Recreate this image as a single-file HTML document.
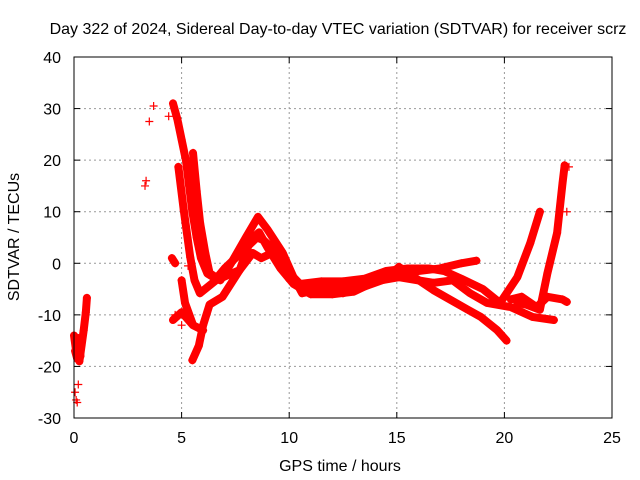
<!DOCTYPE html>
<html><head><meta charset="utf-8"><style>
body{margin:0;background:#fff}
svg{display:block;font-family:"Liberation Sans",sans-serif}
</style></head><body>
<svg id="chart" width="640" height="480" viewBox="0 0 640 480" xmlns="http://www.w3.org/2000/svg">
<text x="338" y="34" font-size="16" text-anchor="middle">Day 322 of 2024, Sidereal Day-to-day VTEC variation (SDTVAR) for receiver scrz</text>
<text x="340" y="471" font-size="16" text-anchor="middle">GPS time / hours</text>
<text transform="translate(19,237) rotate(-90)" font-size="16" text-anchor="middle">SDTVAR / TECUs</text>
<g id="grid"></g>
<g id="ticks"></g>
<g id="series"></g>
<rect x="74" y="57" width="538" height="361" fill="none" stroke="#000" stroke-width="1"/>
</svg>
<script>
const xTicks=[0,5,10,15,20,25];
const yTicks=[-30,-20,-10,0,10,20,30,40];
const trackA=[[4.6,31],[4.8,28],[5.0,24],[5.2,20],[5.35,15],[5.5,10],[5.7,5],[5.9,1],[6.2,-2],[6.6,-3],[7.0,-1],[7.5,1],[8.0,3],[8.5,5],[8.8,4.5],[9.2,3],[9.6,0],[10,-3],[10.5,-4],[11,-4.5],[12,-4.5],[13,-4],[14,-2.5],[15,-2],[16,-1.5],[17,-1],[18,0],[18.7,0.5]];
const trackB=[[5.53,21.4],[5.7,14],[5.86,7.8],[6.1,2],[6.3,-1.9],[6.8,-3.3],[7.3,0],[8.0,5.1],[8.55,9],[9.0,6.5],[9.7,2],[10.2,-2.7],[10.6,-5.8],[11.5,-5],[12.5,-5.8],[13.5,-4.5],[14.5,-3],[15.1,-0.7],[16.7,-5.2],[18.3,-9],[18.9,-10.4],[19.65,-12.9],[20.1,-15]];
const trackC=[[4.85,18.7],[5.1,10.3],[5.4,1.2],[5.6,-3.3],[5.85,-5.8],[6.6,-3.3],[7.7,-1.3],[8.2,4.5],[8.6,6],[9.0,3],[9.6,-1],[10.2,-4],[11,-6],[12,-6],[13,-5.5],[14,-3.5],[15.1,-2.7],[16.7,-3.8],[17.6,-3.3],[18.4,-5.8],[19.2,-7.7],[20.3,-8.5],[21.3,-10.4],[22.3,-11]];
const trackD=[[5.5,-18.8],[5.8,-16],[6.0,-12],[6.3,-8],[6.9,-6.5],[7.7,-1.3],[8.3,2],[8.7,1],[9.2,2],[9.8,-1],[10.5,-4],[11.5,-3.5],[12.5,-3.5],[13.5,-3],[14.5,-1.5],[15.5,-1],[16.5,-1],[17.2,-1.5],[18,-3],[19,-5],[19.8,-7.7],[20.6,-2.7],[21.2,3.9],[21.65,10]];
const trackE=[[4.6,-11],[5.0,-9.5],[5.53,-12],[6.0,-13]];
const trackF=[[5.0,-3.3],[5.16,-7.7],[5.5,-11.6]];
const trackG=[[20.6,-7.7],[21.0,-8],[21.65,-9],[22.0,-1.9],[22.45,5.9],[22.7,15.5],[22.8,19]];
const trackH=[[20.3,-7],[20.8,-6.5],[21.5,-8.5],[22.0,-6.5],[22.7,-7],[22.9,-7.5]];
const trackI=[[0.0,-14],[0.1,-17],[0.25,-19],[0.35,-16],[0.45,-13],[0.55,-9.5],[0.6,-6.7]];
const trackK=[[0.05,-15],[0.2,-14.5],[0.3,-18],[0.15,-18.5],[0.05,-17]];
const trackJ=[[4.55,1],[4.7,0]];
const scatterX=[0.05,0.1,0.2,0.15,3.3,3.35,3.5,3.7,4.4,4.7,5.3,5.0,0.3,22.9,23.0];
const scatterY=[-25,-26.5,-23.5,-27,15,16,27.5,30.5,28.5,-10,-0.5,-12,-18,10,18.7];
const tracks=[trackA,trackB,trackC,trackD,trackE,trackF,trackG,trackH,trackI,trackK,trackJ];

const X0=74,X1=612,Y0=418,Y1=57;
function sx(h){return X0+(h-0)/(25-0)*(X1-X0);}
function sy(v){return Y0-(v+30)/(40+30)*(Y0-Y1);}
const NS='http://www.w3.org/2000/svg';
const grid=document.getElementById('grid'),ticks=document.getElementById('ticks'),series=document.getElementById('series');
function mk(t,a,p){const e=document.createElementNS(NS,t);for(const k in a)e.setAttribute(k,a[k]);p.appendChild(e);return e;}
xTicks.forEach(t=>{
  const x=sx(t);
  if(t>0&&t<25){const g=mk('line',{x1:x,y1:Y1,x2:x,y2:Y0,stroke:'#999','stroke-dasharray':'2,3'},grid);
  
  }
  mk('line',{x1:x,y1:Y0,x2:x,y2:Y0-6,stroke:'#000'},ticks);
  mk('line',{x1:x,y1:Y1,x2:x,y2:Y1+6,stroke:'#000'},ticks);
  const l=mk('text',{x:x,y:Y0+25,'font-size':16,'text-anchor':'middle'},ticks);l.textContent=t;
  
  
});
yTicks.forEach(t=>{
  const y=sy(t);
  if(t>-30&&t<40){const g=mk('line',{x1:X0,y1:y,x2:X1,y2:y,stroke:'#999','stroke-dasharray':'2,3'},grid);
  
  }
  mk('line',{x1:X0,y1:y,x2:X0+6,y2:y,stroke:'#000'},ticks);
  mk('line',{x1:X1,y1:y,x2:X1-6,y2:y,stroke:'#000'},ticks);
  const l=mk('text',{x:X0-13,y:y+6,'font-size':16,'text-anchor':'end'},ticks);l.textContent=t;
  
  
});
function plus(h,v,name){
  const x=sx(h),y=sy(v);
  const p=mk('path',{d:`M${x-4} ${y}H${x+4}M${x} ${y-4}V${y+4}`,stroke:'#f00','stroke-width':1.2},series);
  
  
}
tracks.forEach((tr,i)=>{
  const pl=mk('polyline',{points:tr.map(p=>sx(p[0])+','+sy(p[1])).join(' '),fill:'none',stroke:'#f00','stroke-width':8,'stroke-linejoin':'round','stroke-linecap':'round'},series);
  
  
  tr.forEach(p=>plus(p[0],p[1],'data-point'));
});
scatterX.forEach((h,i)=>plus(h,scatterY[i],'scatter-point'));
</script>
</body></html>
